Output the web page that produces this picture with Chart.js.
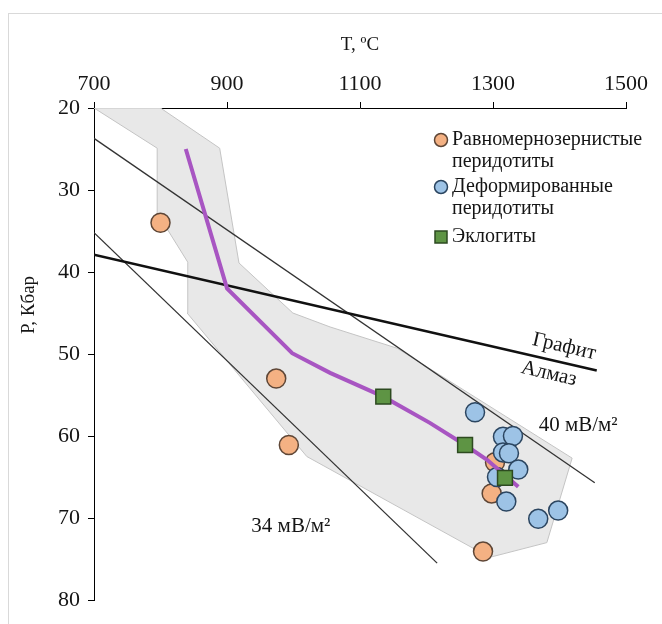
<!DOCTYPE html>
<html lang="ru">
<head>
<meta charset="UTF-8">
<title>P-T диаграмма</title>
<script src="https://cdn.jsdelivr.net/npm/chart.js"></script>
<style>
  html, body { margin: 0; padding: 0; background: #fff; }
  #wrap { width: 662px; height: 624px; }
</style>
</head>
<body>
<div id="wrap"><canvas id="pt-chart" width="662" height="624"></canvas></div>
<script>
// оси
const tempTicks = [700, 900, 1100, 1300, 1500];
const pressTicks = [20, 30, 40, 50, 60, 70, 80];

// равномернозернистые перидотиты
const evenT = [800, 974, 993, 1303, 1298, 1285];
const evenP = [34, 53, 61.1, 63.2, 67, 74.1];

// деформированные перидотиты
const defT = [1273, 1315, 1330, 1315, 1324, 1338, 1306, 1320, 1368, 1398];
const defP = [57.1, 60.1, 60, 62, 62.1, 64.1, 65, 68, 70.1, 69.1];

// эклогиты
const eclT = [1135, 1258, 1318];
const eclP = [55.2, 61.1, 65.1];

// средняя геотерма
const geoT = [838, 900, 998, 1055, 1135, 1205, 1258, 1291, 1338];
const geoP = [25, 42, 49.9, 52.3, 55.2, 58.4, 61.1, 62.9, 66.2];

// поле составов (контур)
const fieldT = [700, 800, 889, 918, 999, 1055, 1156, 1419, 1381, 1295, 1020, 840, 841, 795, 795, 700];
const fieldP = [20, 20, 24.9, 38.9, 45, 46.7, 49.3, 62.7, 73, 74.8, 62.5, 45, 38.8, 32.8, 24.9, 20];

// линия графит-алмаз и кондуктивные геотермы
const gdT = [700, 1456];
const gdP = [37.9, 52];
const hf40T = [700, 1453];
const hf40P = [23.7, 65.7];
const hf34T = [700, 1216];
const hf34P = [35.2, 75.5];

const zip = (xs, ys) => xs.map((x, i) => ({ x: x, y: ys[i] }));

const serif = '"Liberation Serif", "DejaVu Serif", serif';
const ink = '#151515';

const extras = {
    id: 'extras',
    beforeDraw(chart) {
        const ctx = chart.ctx;
        ctx.save();
        ctx.strokeStyle = '#D9D9D9';
        ctx.lineWidth = 1;
        ctx.strokeRect(8.5, 13.5, 700, 700);
        ctx.restore();
    },
    afterDraw(chart) {
        const ctx = chart.ctx;
        const xs = chart.scales.x, ys = chart.scales.y;
        const px = v => xs.getPixelForValue(v);
        const py = v => ys.getPixelForValue(v);
        ctx.save();
        ctx.fillStyle = ink;
        ctx.textAlign = 'center';
        ctx.textBaseline = 'middle';

        // заголовки осей
        ctx.font = '19px ' + serif;
        ctx.fillText('T, ºC', (chart.chartArea.left + chart.chartArea.right) / 2, 45);
        ctx.save();
        ctx.translate(29, 305);
        ctx.rotate(-Math.PI / 2);
        ctx.fillText('P, Кбар', 0, 0);
        ctx.restore();

        // подписи линий
        ctx.font = '21px ' + serif;
        const ang = Math.atan2(py(gdP[1]) - py(gdP[0]), px(gdT[1]) - px(gdT[0]));
        [['Графит', 1407, 49.1], ['Алмаз', 1384, 52.4]].forEach(([t, x, y]) => {
            ctx.save();
            ctx.translate(px(x), py(y));
            ctx.rotate(ang);
            ctx.fillText(t, 0, 0);
            ctx.restore();
        });
        ctx.fillText('40 мВ/м²', px(1428), py(58.7));
        ctx.fillText('34 мВ/м²', px(996), py(71));

        // легенда
        ctx.font = '20px ' + serif;
        ctx.textAlign = 'left';
        const lx = 441, tx = 452;
        ctx.lineWidth = 1.5;
        ctx.fillStyle = '#F4B183'; ctx.strokeStyle = '#5E4636';
        ctx.beginPath(); ctx.arc(lx, 140, 6.5, 0, Math.PI * 2); ctx.fill(); ctx.stroke();
        ctx.fillStyle = '#9DC3E6'; ctx.strokeStyle = '#2B4560';
        ctx.beginPath(); ctx.arc(lx, 187, 6.5, 0, Math.PI * 2); ctx.fill(); ctx.stroke();
        ctx.fillStyle = '#5E9444'; ctx.strokeStyle = '#2D4A20';
        ctx.fillRect(lx - 6, 231, 12, 12); ctx.strokeRect(lx - 6, 231, 12, 12);
        ctx.fillStyle = ink;
        ctx.fillText('Равномернозернистые', tx, 140);
        ctx.fillText('перидотиты', tx, 162);
        ctx.fillText('Деформированные', tx, 187);
        ctx.fillText('перидотиты', tx, 209);
        ctx.fillText('Эклогиты', tx, 237);
        ctx.restore();
    }
};

const tickFont = { family: serif, size: 22 };

const ctx = document.getElementById('pt-chart').getContext('2d');
new Chart(ctx, {
    type: 'scatter',
    data: {
        datasets: [
            {
                label: 'поле',
                data: zip(fieldT, fieldP),
                showLine: true,
                fill: 'shape',
                backgroundColor: '#E8E8E8',
                borderColor: '#C4C4C4',
                borderWidth: 1,
                pointRadius: 0,
                order: 10
            },
            {
                label: 'графит-алмаз',
                data: zip(gdT, gdP),
                showLine: true,
                borderColor: '#111',
                borderWidth: 2.6,
                pointRadius: 0,
                order: 8
            },
            {
                label: '40',
                data: zip(hf40T, hf40P),
                showLine: true,
                borderColor: '#333',
                borderWidth: 1.3,
                pointRadius: 0,
                order: 8
            },
            {
                label: '34',
                data: zip(hf34T, hf34P),
                showLine: true,
                borderColor: '#333',
                borderWidth: 1.3,
                pointRadius: 0,
                order: 8
            },
            {
                label: 'Равномернозернистые перидотиты',
                data: zip(evenT, evenP),
                backgroundColor: '#F4B183',
                borderColor: '#5E4636',
                borderWidth: 1.5,
                pointRadius: 9.5,
                order: 6
            },
            {
                label: 'Деформированные перидотиты',
                data: zip(defT, defP),
                backgroundColor: '#9DC3E6',
                borderColor: '#2B4560',
                borderWidth: 1.5,
                pointRadius: 9.5,
                order: 5
            },
            {
                label: 'геотерма',
                data: zip(geoT, geoP),
                showLine: true,
                borderColor: '#A855C2',
                borderWidth: 4,
                pointRadius: 0,
                order: 4
            },
            {
                label: 'Эклогиты',
                data: zip(eclT, eclP),
                pointStyle: 'rect',
                backgroundColor: '#5E9444',
                borderColor: '#2D4A20',
                borderWidth: 1.5,
                pointRadius: 10.5,
                order: 3
            }
        ]
    },
    options: {
        responsive: false,
        animation: false,
        layout: { padding: { left: 10, top: 8, right: 36, bottom: 24 } },
        plugins: { legend: { display: false }, tooltip: { enabled: false } },
        scales: {
            x: {
                type: 'linear',
                position: 'top',
                min: 700,
                max: 1500,
                afterBuildTicks: s => { s.ticks = tempTicks.map(v => ({ value: v })); },
                afterFit: s => { s.height = 100; },
                ticks: { color: ink, font: tickFont, padding: 5, callback: v => String(v) },
                grid: { drawOnChartArea: false, color: '#000', tickLength: 6 },
                border: { color: '#000', width: 1 }
            },
            y: {
                type: 'linear',
                reverse: true,
                min: 20,
                max: 80,
                afterBuildTicks: s => { s.ticks = pressTicks.map(v => ({ value: v })); },
                afterFit: s => { s.width = 84; },
                ticks: { color: ink, font: tickFont, padding: 8, callback: v => String(v) },
                grid: { drawOnChartArea: false, color: '#000', tickLength: 6 },
                border: { color: '#000', width: 1 }
            }
        }
    },
    plugins: [extras]
});
</script>
</body>
</html>
